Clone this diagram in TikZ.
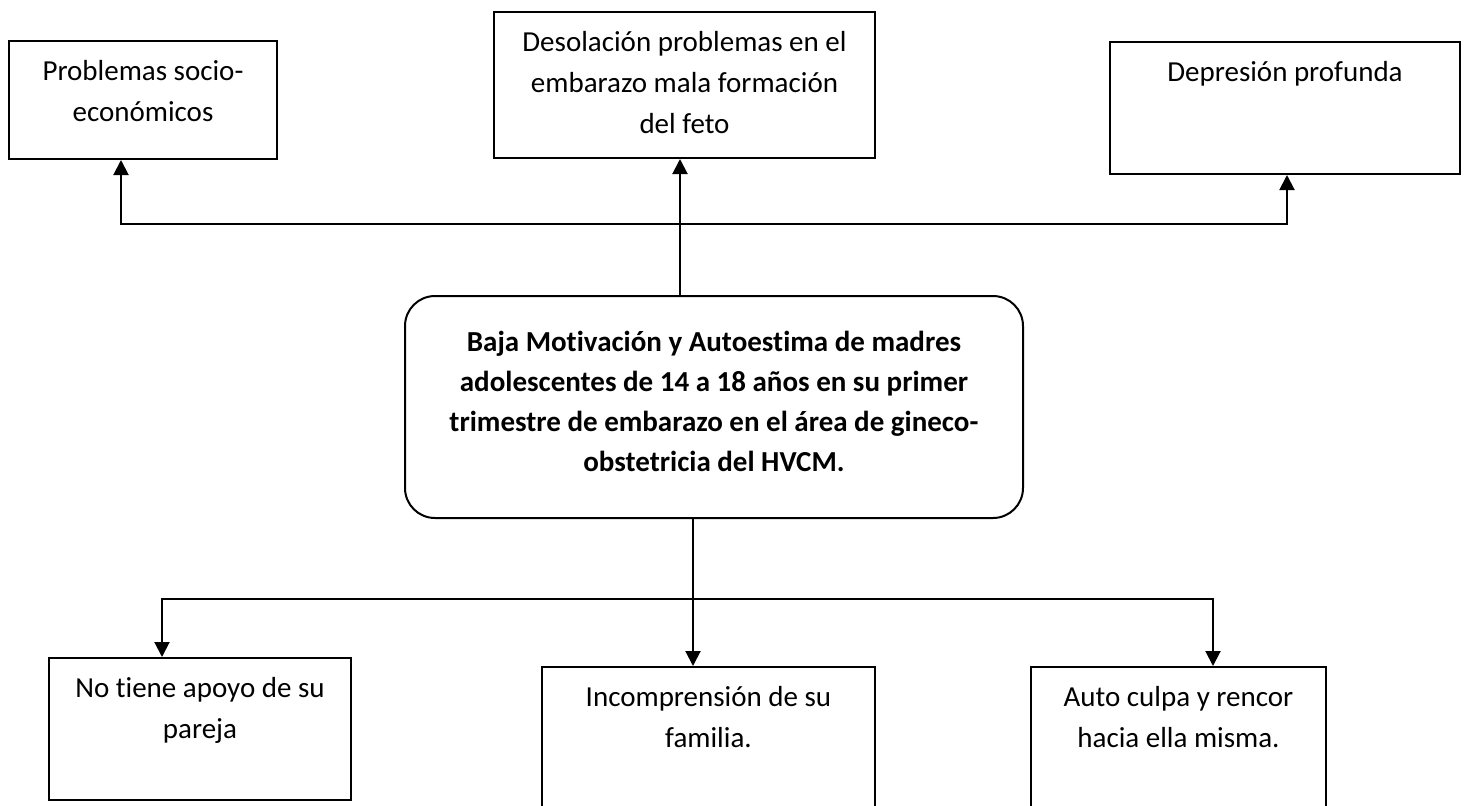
\documentclass[tikz,border=0pt]{standalone}
\usepackage{fontspec}
\setmainfont{Carlito}[Ligatures=NoCommon]
\usetikzlibrary{arrows.meta}

\tikzset{
  causa/.style={draw, line width=1pt, inner sep=0pt, anchor=north, align=flush center, text height=19.5pt,
    font=\fontsize{14.5pt}{20.7pt}\selectfont},
  flecha/.style={line width=1pt, -{Triangle[length=7.5pt,width=7.5pt]}}
}

\begin{document}
\begin{tikzpicture}[x=0.5pt,y=-0.5pt]
	\useasboundingbox (0,0) rectangle (1464,805);

	% efectos
	\node[causa, text width=134pt, text depth=39.5pt] (socio) at (143,40) {Problemas socio-\\econ\'omicos};
	\node[causa, text width=190.5pt, text depth=53.5pt] (desol) at (684.5,11) {Desolaci\'on problemas en el\\embarazo mala formaci\'on\\del feto};
	\node[causa, text width=175pt, text depth=46.5pt] (depre) at (1285,41) {Depresi\'on profunda};

	% problema central
	\node[causa, rounded corners=15pt, text width=309pt, text height=27.5pt, text depth=83.5pt,
	  font=\fontsize{14.5pt}{20pt}\selectfont\bfseries] (baja) at (714,295)
	  {Baja Motivaci\'on y Autoestima de madres\\adolescentes de 14 a 18 a\~nos en su primer\\trimestre de embarazo en el \'area de gineco-\\obstetricia del HVCM.};

	% causas
	\node[causa, text width=151pt, text depth=51.5pt] (apoyo) at (200,657) {No tiene apoyo de su\\pareja};
	\node[causa, text width=166.5pt, text depth=62.5pt] (famil) at (708.5,666) {Incomprensi\'on de su\\familia.};
	\node[causa, text width=147.5pt, text depth=62.5pt] (culpa) at (1178.5,666) {Auto culpa y rencor\\hacia ella misma.};

	\coordinate (jtop) at (680,224);
	\coordinate (tl) at (121,224);
	\coordinate (tr) at (1287,224);
	\coordinate (jbot) at (693,599);
	\coordinate (bl) at (162,599);
	\coordinate (br) at (1213,599);

	\draw[flecha] (baja.north -| jtop) -- (desol.south -| jtop);
	\draw[flecha] (jtop) -| (socio.south -| tl);
	\draw[flecha] (jtop) -| (depre.south -| tr);

	\draw[flecha] (baja.south -| jbot) -- (famil.north -| jbot);
	\draw[flecha] (jbot) -| (apoyo.north -| bl);
	\draw[flecha] (jbot) -| (culpa.north -| br);

\end{tikzpicture}
\end{document}
